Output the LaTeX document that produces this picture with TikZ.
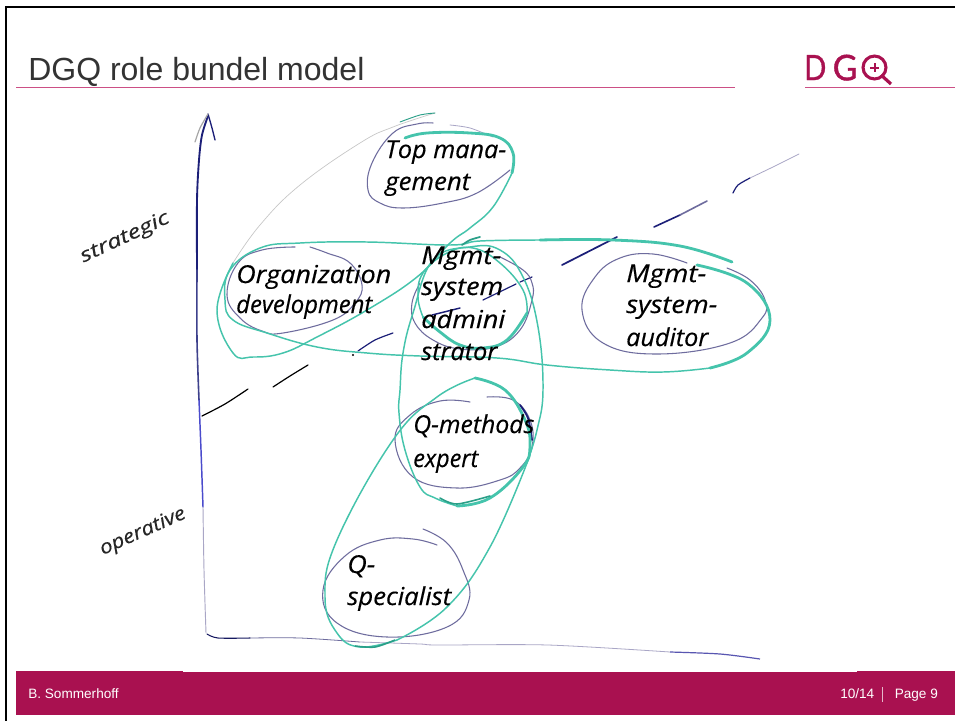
\documentclass[tikz,border=0pt]{standalone}
\usepackage{fontspec}
\setsansfont{Liberation Sans}
\newfontfamily\logofont[FakeBold=1.2]{Lato}
\newfontfamily\handfont[ItalicFont=* Italic,ItalicFeatures={FakeBold=0.4}]{Open Sans}
\definecolor{dgq}{HTML}{A91150}
\definecolor{rulec}{HTML}{CC4F85}
\definecolor{tealm}{HTML}{45C4AC}
\definecolor{teald}{HTML}{2A9F88}
\definecolor{teall}{HTML}{8ADCCB}
\definecolor{purp}{HTML}{6E6C9E}
\definecolor{purpl}{HTML}{A9A6C6}
\definecolor{navy}{HTML}{1C1F78}
\newdimen\handw
\newcommand{\hand}[2]{\handw=#1pt \handw=0.75\handw \resizebox{\handw}{\height}{\handfont\fontsize{18.5}{19}\selectfont\itshape #2}}
\newcommand{\handsmall}[2]{\handw=#1pt \handw=0.75\handw \resizebox{\handw}{\height}{\handfont\fontsize{14.5}{15}\selectfont\itshape #2}}
\tikzset{
  x=0.75pt,y=-0.75pt,
  tealline/.style={draw=tealm,line width=1.1pt,line cap=round,line join=round},
  tealthick/.style={draw=tealm,line width=2.1pt,line cap=round,line join=round},
  tealthin/.style={draw=teall,line width=0.8pt,line cap=round},
  purpline/.style={draw=purp,line width=0.8pt,line cap=round},
  purplight/.style={draw=purpl,line width=0.6pt,line cap=round},
  navyline/.style={draw=navy,line width=1.2pt,line cap=round},
  dashseg/.style={draw=#1,line width=0.9pt,line cap=round},
  handtext/.style={anchor=base west,inner sep=0pt,text=black},
  foot/.style={anchor=base west,inner sep=0pt,text=white,font=\sffamily\fontsize{10.2}{11}\selectfont},
}
\begin{document}
\begin{tikzpicture}
\useasboundingbox (0,0) rectangle (955,721);
\fill[white] (0,0) rectangle (955,721);
% slide frame
\fill[black] (5,5.5) rectangle (955,7.8);
\fill[black] (5,5.5) rectangle (7.3,721);
% title and rules
\node[anchor=base west,inner sep=0pt,text=black!80,font=\sffamily\fontsize{24}{26}\selectfont] (title) at (28,80) {DGQ role bundel model};
\fill[rulec] (16,87) rectangle (735,88.2);
\fill[rulec] (805,87) rectangle (955,88.2);
% logo
\node[anchor=base west,inner sep=0pt,text=dgq] (logod) at (804,80) {\resizebox{16.5pt}{18.7pt}{\logofont\fontsize{26}{26}\selectfont D}};
\node[anchor=base west,inner sep=0pt,text=dgq] (logog) at (832.5,80.3) {\resizebox{18.5pt}{19.2pt}{\logofont\fontsize{26}{26}\selectfont G}};
\draw[dgq,line width=2.3pt] (874.5,67.5) circle[radius=8.6pt];
\draw[dgq,line width=2.4pt] (881,75) -- (891,84);
\draw[dgq,line width=1.5pt] (870,67.5) -- (879,67.5) (874.5,63) -- (874.5,72);
% footer
\fill[dgq] (16,671) rectangle (955,714.5);
\fill[white] (183,670) rectangle (857,672);
\node[foot] (author) at (28,698) {B. Sommerhoff};
\node[foot] (pagea) at (840,698) {10/14};
\fill[white!70!dgq] (882,687) rectangle (882.6,702);
\node[foot] (pageb) at (894.5,698) {Page 9};
% axes
\draw[draw=navy,line width=1.4pt,line cap=round] plot[smooth] coordinates {(208,116) (202,135) (199,160) (197,200) (197,270)};
\draw[draw=navy!85!white,line width=1.2pt,line cap=round] plot[smooth] coordinates {(197,270) (197,340) (199,400)};
\draw[draw=blue!50!navy!75!white,line width=1.1pt,line cap=round] plot[smooth] coordinates {(199,400) (201,450) (203,507)};
\draw[draw=purpl,line width=0.7pt,line cap=round] plot[smooth] coordinates {(203,507) (204,570) (206,633)};
\draw[draw=navy,line width=1pt,line cap=round] plot[smooth] coordinates {(208,114) (212,128) (215,140)};
\draw[draw=gray!70,line width=0.9pt,line cap=round] plot[smooth] coordinates {(208,114) (200,128) (195,142)};
\draw[draw=navy!80!black,line width=0.8pt,line cap=round] plot[smooth] coordinates {(207,634) (218,638) (250,638)};
\draw[draw=purp,line width=0.6pt] plot[smooth] coordinates {(250,638) (300,638) (360,642)};
\draw[draw=purpl,line width=0.6pt] plot[smooth] coordinates {(360,642) (420,644) (438,645) (548,645) (670,652)};
\draw[draw=purp!80!blue,line width=0.9pt] plot[smooth] coordinates {(670,652) (720,654) (760,659)};
% diagonal dashes
\draw[dashseg=black] plot[smooth] coordinates {(202,416) (225,404) (248,389)};
\draw[dashseg=black] plot[smooth] coordinates {(273,387) (290,376) (308,365)};
\fill[black] (353,355) circle[radius=0.8pt];
\draw[dashseg=navy] plot[smooth] coordinates {(358,351) (375,340) (393,333)};
\draw[dashseg=navy,line width=1.1pt] (432,315) -- (460,308);
\draw[dashseg=navy] (483,300) -- (516,284);
\draw[dashseg=navy] (520,282) -- (532,277);
\draw[navyline,line width=1.3pt] (562,265) -- (617,237);
\draw[dashseg=navy,line width=1.2pt] (654,227) -- (680,215);
\draw[dashseg=purp,line width=1.2pt] (680,215) -- (707,201);
\draw[dashseg=navy] plot[smooth] coordinates {(733,193) (738,185) (750,178)};
\draw[draw=purpl,line width=0.6pt,line cap=round] plot[smooth] coordinates {(750,178) (775,166) (799,154)};
% purple rings
\draw[purpline] plot[smooth,tension=.7] coordinates {(433,123) (417,124) (393,133) (372,163) (368,190) (380,203) (403,208) (443,203) (477,193) (510,170)};
\draw[purplight] plot[smooth] coordinates {(450,125) (470,128) (493,137)};
\draw[purpline] plot[smooth,tension=.7] coordinates {(295,247) (262,250) (238,263) (227,295) (240,318) (262,331) (283,333) (333,320) (355,303) (362,285) (350,263) (327,253) (310,247)};
\draw[purpline] plot[smooth,tension=.7] coordinates {(420,283) (412,303) (415,323) (433,340) (460,349) (495,347) (520,330) (532,300) (532,283) (523,270) (500,257)};
\draw[purpline] plot[smooth,tension=.7] coordinates {(687,263) (653,254) (620,258) (595,277) (582,310) (603,343) (657,354) (730,343) (762,318) (765,300) (750,280) (727,268)};
\draw[purpline] plot[smooth,tension=.7] coordinates {(470,402) (440,401) (410,415) (395,440) (413,477) (457,488) (500,480) (520,468) (532,447) (530,420) (513,400) (487,397)};
\draw[navyline,line width=1.4pt] plot[smooth] coordinates {(520,405) (528,418) (532,440)};
\draw[purpline] plot[smooth,tension=.7] coordinates {(437,545) (413,539) (380,540) (345,556) (323,590) (337,623) (387,637) (447,627) (469,600) (463,570) (447,543) (423,529)};
% teal bundles
\draw[draw=gray!45,line width=0.5pt,line cap=round] plot[smooth,tension=.7] coordinates {(435,113) (393,127) (360,143) (300,185) (260,225) (233,263)};
\draw[draw=teald,line width=0.7pt,line cap=round] plot[smooth] coordinates {(435,113) (420,115) (400,122)};
\draw[tealline] plot[smooth,tension=.7] coordinates {(233,263) (217,310) (233,353) (253,357) (283,353) (317,337) (367,310) (417,277) (450,243) (470,228) (493,207) (512,173)};
\draw[tealthick] plot[smooth,tension=.7] coordinates {(512,173) (513,153) (500,138) (470,133) (427,133) (405,138)};
\draw[tealthick] plot[smooth,tension=.7] coordinates {(732,262) (680,246) (613,240) (540,240)};
\draw[tealline] plot[smooth,tension=.7] coordinates {(540,240) (480,241) (450,245) (367,242) (300,243) (260,248) (230,270) (225,300) (233,320) (267,333) (317,347) (367,353) (420,356) (497,358) (547,365) (610,370) (663,372) (710,368)};
\draw[tealthick] plot[smooth,tension=.7] coordinates {(710,368) (747,353) (770,320) (747,283) (697,265)};
\draw[tealline] plot[smooth,tension=.7] coordinates {(423,317) (418,297) (423,273) (447,253) (473,248) (500,263) (523,290) (527,313)};
\draw[tealthick] plot[smooth,tension=.7] coordinates {(423,317) (440,332) (460,345) (483,348) (507,340) (527,313)};
\draw[draw=teald,line width=1.3pt,line cap=round] plot[smooth] coordinates {(462,245) (470,240) (480,237)};
\draw[tealthick] plot[smooth,tension=.7] coordinates {(475,378) (505,390) (525,420) (530,445) (523,467) (490,498) (457,506)};
\draw[tealline] plot[smooth,tension=.7] coordinates {(457,506) (435,498) (420,487) (405,450) (399,413) (400,390) (403,353) (413,313) (433,260) (470,247) (500,250) (523,277) (538,327) (543,390) (537,430) (527,463)};
\draw[tealline] plot[smooth,tension=.7] coordinates {(527,463) (490,547) (447,607) (397,640)};
\draw[tealline] plot[smooth,tension=.7] coordinates {(397,640) (360,647) (337,633) (325,597) (337,540) (393,440) (437,397) (475,378)};
\draw[draw=teald,line width=1.2pt] plot[smooth] coordinates {(355,646) (375,647) (395,640)};
\draw[draw=teald,line width=1.2pt,line cap=round] plot[smooth] coordinates {(440,498) (457,504) (490,496)};
% hand written labels
\node[handtext] (top1) at (385,158) {\hand{121}{Top mana-}};
\node[handtext] (top2) at (385,190) {\hand{85}{gement}};
\node[handtext] (org1) at (236,283) {\hand{155}{Organization}};
\node[handtext] (org2) at (236,313) {\hand{136}{development}};
\node[handtext] (adm1) at (421,264) {\hand{80}{Mgmt-}};
\node[handtext] (adm2) at (421,295) {\hand{82}{system}};
\node[handtext] (adm3) at (421,328) {\hand{84}{admini}};
\node[handtext] (adm4) at (421,360) {\hand{76}{strator}};
\node[handtext] (aud1) at (626,282) {\hand{80}{Mgmt-}};
\node[handtext] (aud2) at (626,313) {\hand{91}{system-}};
\node[handtext] (aud3) at (626,346) {\hand{82}{auditor}};
\node[handtext] (qm1) at (413,433) {\hand{121}{Q-methods}};
\node[handtext] (qm2) at (413,467) {\hand{65}{expert}};
\node[handtext] (qs1) at (347,573) {\hand{28}{Q-}};
\node[handtext] (qs2) at (347,605) {\hand{104}{specialist}};
\node[inner sep=0pt,rotate=25,text=black!85] (stra) at (125,238) {\handsmall{96}{strategic}};
\node[inner sep=0pt,rotate=24,text=black!85] (oper) at (143,532) {\handsmall{92}{operative}};
\end{tikzpicture}
\end{document}
